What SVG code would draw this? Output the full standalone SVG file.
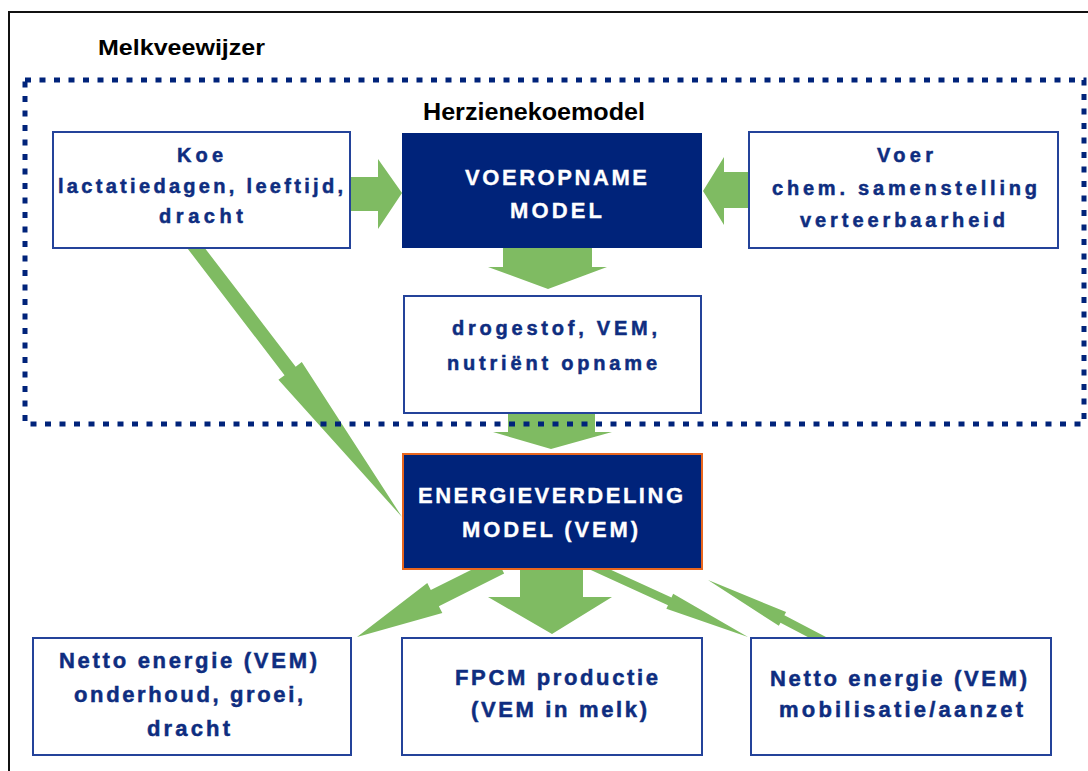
<svg xmlns="http://www.w3.org/2000/svg" width="1088" height="771" viewBox="0 0 1088 771">
<style>
.frame{fill:none;stroke:#111;stroke-width:2}
.hdr{font-family:"Liberation Sans",Arial,sans-serif;font-weight:bold;fill:#000}
.box{fill:#fff;stroke:#24439a;stroke-width:2}
.dark{fill:#00237a}
.en{fill:#00237a;stroke:#e8661e;stroke-width:2}
.t{font-family:"Liberation Sans",Arial,sans-serif;font-weight:bold;fill:#0e2d80;stroke:#0e2d80;stroke-width:0.5;text-anchor:middle}
.s20{font-size:20px}
.s22{font-size:22px}
.w{font-family:"Liberation Sans",Arial,sans-serif;font-weight:bold;fill:#fff;stroke:#fff;stroke-width:0.3;text-anchor:middle;font-size:22px}
.arr{fill:#7fbb62}
.dots{fill:none;stroke:#00237a;stroke-width:5;stroke-dasharray:6 8.5}
</style>
<rect x="0" y="0" width="1088" height="771" fill="#fff"/>
<rect class="frame" x="9" y="12" width="1095" height="780"/>
<text class="hdr" x="98" y="55" font-size="22" textLength="167" lengthAdjust="spacingAndGlyphs">Melkveewijzer</text>

<g id="connectors">
<polygon class="arr" points="345,177 378,177 378,159 402,193 378,229 378,211 345,211"/>
<polygon class="arr" points="755,172 724,172 724,157 703,191 724,225 724,208 755,208"/>
<polygon class="arr" points="503,244 592,244 592,267 607,267 548,289 488,267 503,267"/>
<polygon class="arr" points="508,410 595,410 595,432 612,432 551,449 493,432 508,432"/>
<polygon class="arr" transform="translate(402,517) rotate(52.55)" points="-348,-7 -184,-7 -184,-14.7 0,0 -184,14.7 -184,7 -348,7"/>
<polygon class="arr" points="520,566 583,566 583,597 612,597 552,634 488,597 520,597"/>
<polygon class="arr" transform="translate(357,637) rotate(153.43)" points="-160,-9 -87,-9 -87,-16.8 0,0 -87,16.8 -87,9 -160,9"/>
<polygon class="arr" transform="translate(748,637) rotate(24.5)" points="-172,-4.2 -86,-4.2 -86,-8.2 0,0 -86,8.2 -86,4.2 -172,4.2"/>
<polygon class="arr" transform="translate(708,580) rotate(207.6)" points="-132,-4.2 -84,-4.2 -84,-7.8 0,0 -84,7.8 -84,4.2 -132,4.2"/>
</g>

<g id="herzienekoemodel">
<rect class="dots" x="25" y="80" width="1059" height="344"/>
<text class="hdr" x="423" y="120" font-size="23" textLength="222" lengthAdjust="spacingAndGlyphs">Herzienekoemodel</text>
</g>

<g id="koe">
<rect class="box" x="53" y="132" width="297" height="116"/>
<text class="t s20" x="200" y="162" textLength="46">Koe</text>
<text class="t s20" x="200.5" y="193" textLength="285">lactatiedagen, leeftijd,</text>
<text class="t s20" x="201" y="223" textLength="84">dracht</text>
</g>

<g id="voeropname">
<rect class="dark" x="402" y="133" width="300" height="115"/>
<text class="w" x="556" y="185" textLength="182">VOEROPNAME</text>
<text class="w" x="556" y="218" textLength="92">MODEL</text>
</g>

<g id="voer">
<rect class="box" x="749" y="132" width="309" height="116"/>
<text class="t s20" x="905" y="162" textLength="56">Voer</text>
<text class="t s20" x="904.5" y="195" textLength="265">chem. samenstelling</text>
<text class="t s20" x="902.5" y="227" textLength="205">verteerbaarheid</text>
</g>

<g id="drogestof">
<rect class="box" x="404" y="296" width="297" height="117"/>
<text class="t s20" x="554.5" y="335" textLength="205">drogestof, VEM,</text>
<text class="t s20" x="552" y="370" textLength="210">nutriënt opname</text>
</g>

<g id="energieverdeling">
<rect class="en" x="403" y="454" width="299" height="115"/>
<text class="w" x="550.5" y="503" textLength="265">ENERGIEVERDELING</text>
<text class="w" x="550" y="537" textLength="176">MODEL (VEM)</text>
</g>

<g id="onderhoud">
<rect class="box" x="33" y="638" width="318" height="117"/>
<text class="t s22" x="188" y="668" textLength="258">Netto energie (VEM)</text>
<text class="t s22" x="188.5" y="702" textLength="229">onderhoud, groei,</text>
<text class="t s22" x="188.5" y="736" textLength="83">dracht</text>
</g>

<g id="fpcm">
<rect class="box" x="402" y="638" width="300" height="117"/>
<text class="t s22" x="556.5" y="685" textLength="203">FPCM productie</text>
<text class="t s22" x="559" y="717" textLength="176">(VEM in melk)</text>
</g>

<g id="mobilisatie">
<rect class="box" x="751" y="638" width="300" height="117"/>
<text class="t s22" x="898.5" y="686" textLength="257">Netto energie (VEM)</text>
<text class="t s22" x="901" y="717" textLength="244">mobilisatie/aanzet</text>
</g>
</svg>
